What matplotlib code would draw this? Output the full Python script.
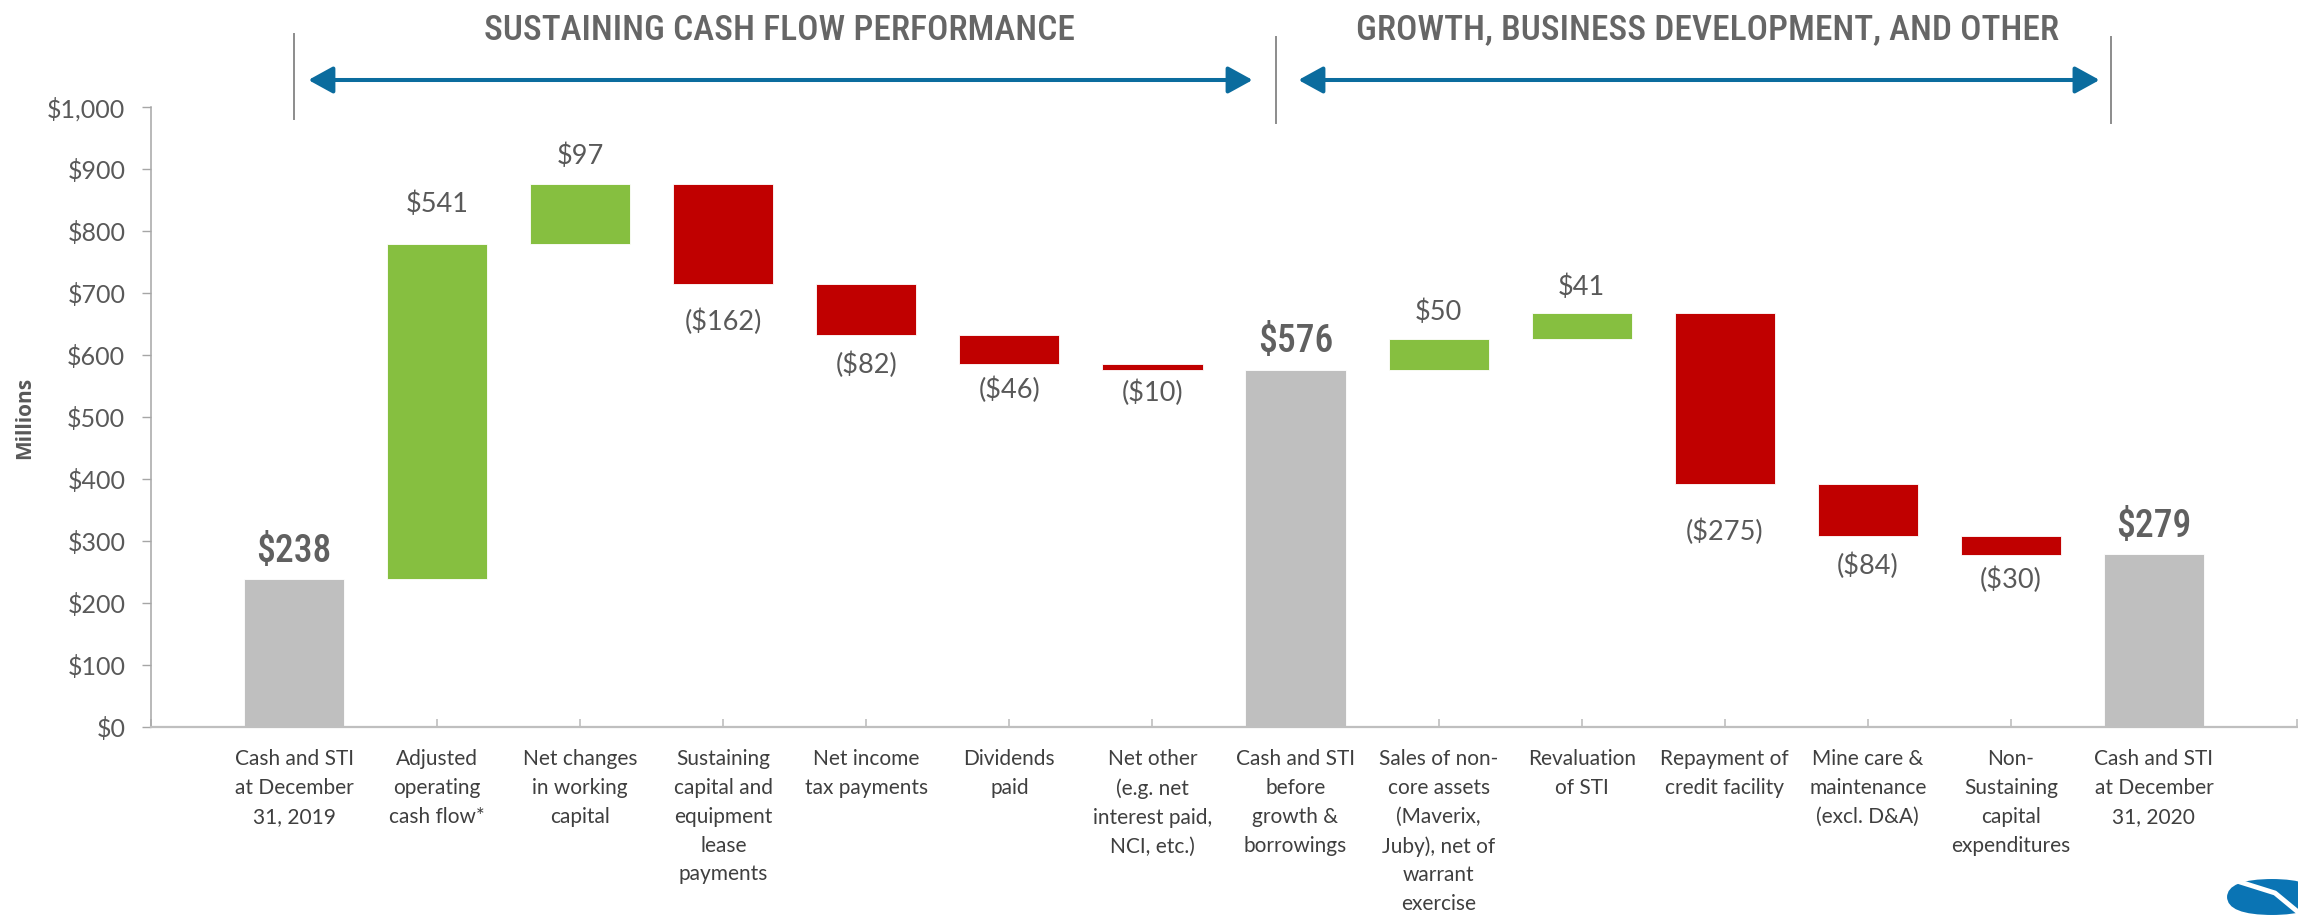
import os
import matplotlib
matplotlib.use("Agg")
import matplotlib.pyplot as plt
import matplotlib.font_manager as fm
from matplotlib.patches import FancyArrowPatch, FancyBboxPatch
from matplotlib.lines import Line2D
from matplotlib.ticker import FuncFormatter
import matplotlib.transforms as mtransforms

# data
categories = [
    "Cash and STI\nat December\n31, 2019",
    "Adjusted\noperating\ncash flow*",
    "Net changes\nin working\ncapital",
    "Sustaining\ncapital and\nequipment\nlease\npayments",
    "Net income\ntax payments",
    "Dividends\npaid",
    "Net other\n(e.g. net\ninterest paid,\nNCI, etc.)",
    "Cash and STI\nbefore\ngrowth &\nborrowings",
    "Sales of non-\ncore assets\n(Maverix,\nJuby), net of\nwarrant\nexercise",
    "Revaluation\nof STI",
    "Repayment of\ncredit facility",
    "Mine care &\nmaintenance\n(excl. D&A)",
    "Non-\nSustaining\ncapital\nexpenditures",
    "Cash and STI\nat December\n31, 2020",
]
kinds = ["total", "delta", "delta", "delta", "delta", "delta", "delta",
         "total", "delta", "delta", "delta", "delta", "delta", "total"]
values = [238, 541, 97, -162, -82, -46, -10, 576, 50, 41, -275, -84, -30, 279]

section_titles = ["SUSTAINING CASH FLOW PERFORMANCE",
                  "GROWTH, BUSINESS DEVELOPMENT, AND OTHER"]

GRAY = "#BFBFBF"
GREEN = "#86BF40"
RED = "#C00000"
TXT = "#595959"
DARK = "#3F3F3F"
BLUE = "#0B6C9E"


def find_condensed():
    wanted = ["notosans-extracondensedmedium.", "notosans-extracondensed.",
              "liberationsansnarrow-regular", "robotocondensed-medium",
              "robotocondensed-regular", "roboto-condensed", "notosans-condensed.",
              "opensans-condensed", "opensanscondensed", "dejavusanscondensed."]
    files = [f.fname for f in fm.fontManager.ttflist]
    for w in wanted:
        for fn in files:
            if w in os.path.basename(fn).lower().replace("_", "-"):
                return fn
    for f in fm.fontManager.ttflist:
        if f.stretch not in ("normal", 500) and f.style == "normal":
            return f.fname
    return None


cond_file = find_condensed()
extra = cond_file is not None and "extracondensed" in os.path.basename(cond_file).lower()


def cond(size):
    if cond_file:
        return fm.FontProperties(fname=cond_file, size=size)
    return fm.FontProperties(family="DejaVu Sans", size=size * 0.8)


BODY = ["Lato", "DejaVu Sans"]

W, H = 2298, 915
fig = plt.figure(figsize=(W / 100, H / 100), dpi=100)
ax = fig.add_axes([151 / W, 1 - 727 / H, (2297 - 151) / W, (727 - 107) / H])

px = 0.72  # points per pixel at dpi 100
total_size = 28 if extra else 27
head_size = 33 if extra else 25.5

level = 0
for i, (k, v) in enumerate(zip(kinds, values)):
    if k == "total":
        ax.bar(i, v, width=0.70, color=GRAY, edgecolor="white", linewidth=0.6, zorder=2)
        level = v
        ax.annotate(f"${v}", (i, v), xytext=(0, 28 * px), textcoords="offset points",
                    ha="center", va="center", color="#606060", fontproperties=cond(total_size))
    else:
        bottom = level if v > 0 else level + v
        ax.bar(i, abs(v), bottom=bottom, width=0.70,
               color=GREEN if v > 0 else RED, edgecolor="white", linewidth=0.6, zorder=2)
        level += v
        if v > 0:
            off = (25 + 0.027 * v) * px
            ax.annotate(f"${v}", (i, bottom + v), xytext=(0, off), textcoords="offset points",
                        ha="center", va="center", fontsize=19.5, color=TXT, family=BODY)
        else:
            off = (22 + 0.095 * abs(v)) * px
            ax.annotate(f"(${-v})", (i, bottom), xytext=(0, -off), textcoords="offset points",
                        ha="center", va="center", fontsize=19.5, color=TXT, family=BODY)

ax.set_xlim(-1, 14)
ax.set_ylim(0, 1000)
ax.set_yticks(range(0, 1001, 100))
ax.yaxis.set_major_formatter(FuncFormatter(lambda y, _: f"${int(y):,}"))
ax.set_xticks(range(len(categories)))
ax.set_xticklabels(categories, fontsize=15, color=DARK, family=BODY, linespacing=1.55,
                   va="top")
ax.set_xticks([-1, 14], minor=True)

for lab in ax.get_yticklabels():
    lab.set_family(BODY)
ax.tick_params(axis="y", direction="out", length=6.5, width=1.0, color="#A6A6A6",
               labelsize=18, labelcolor=TXT, pad=12)
ax.tick_params(axis="x", which="both", direction="in", length=6, width=1.2, color=GRAY,
               pad=16)

for s in ["top", "right"]:
    ax.spines[s].set_visible(False)
ax.spines["left"].set_color("#A6A6A6")
ax.spines["left"].set_linewidth(1.1)
ax.spines["bottom"].set_color(GRAY)
ax.spines["bottom"].set_linewidth(1.6)

ax.set_ylabel("Millions", fontsize=15, fontweight="bold", color=TXT,
              family=["Open Sans", "DejaVu Sans"])
ax.yaxis.set_label_coords((35 - 151) / (2297 - 151), (727 - 418) / (727 - 107))

# section headers, separators, arrows
blend = mtransforms.blended_transform_factory(ax.transData, fig.transFigure)
fig.text(779 / W, 1 - 30 / H, section_titles[0], ha="center", va="center",
         color="#666666", fontproperties=cond(head_size))
fig.text(1707 / W, 1 - 30 / H, section_titles[1], ha="center", va="center",
         color="#666666", fontproperties=cond(head_size))

for xs, y0, y1 in [(0.0, 34, 119), (6.86, 37, 123), (12.70, 37, 123)]:
    fig.add_artist(Line2D([xs, xs], [1 - y0 / H, 1 - y1 / H], transform=blend,
                          color="#8C8C8C", linewidth=1.4))

for xa, xb in [(0.10, 6.70), (7.02, 12.62)]:
    fig.add_artist(FancyArrowPatch((xa, 1 - 80 / H), (xb, 1 - 80 / H), transform=blend,
                                   arrowstyle="<|-|>,head_length=0.6,head_width=0.33",
                                   mutation_scale=25, color=BLUE, linewidth=2.9,
                                   shrinkA=0, shrinkB=0))

# logo fragment in the corner
fig.add_artist(FancyBboxPatch((2227 / W, 0), 90 / W, 36 / H,
                              boxstyle="round,pad=0,rounding_size=0.02",
                              transform=fig.transFigure, facecolor="#0A74B4",
                              edgecolor="none", clip_on=False))
fig.add_artist(Line2D([2240 / W, 2275 / W, 2298 / W], [1 - 882 / H, 1 - 893 / H, 1 - 912 / H],
                      transform=fig.transFigure, color="white", linewidth=3.5))

fig.savefig("out.png", dpi=100)
